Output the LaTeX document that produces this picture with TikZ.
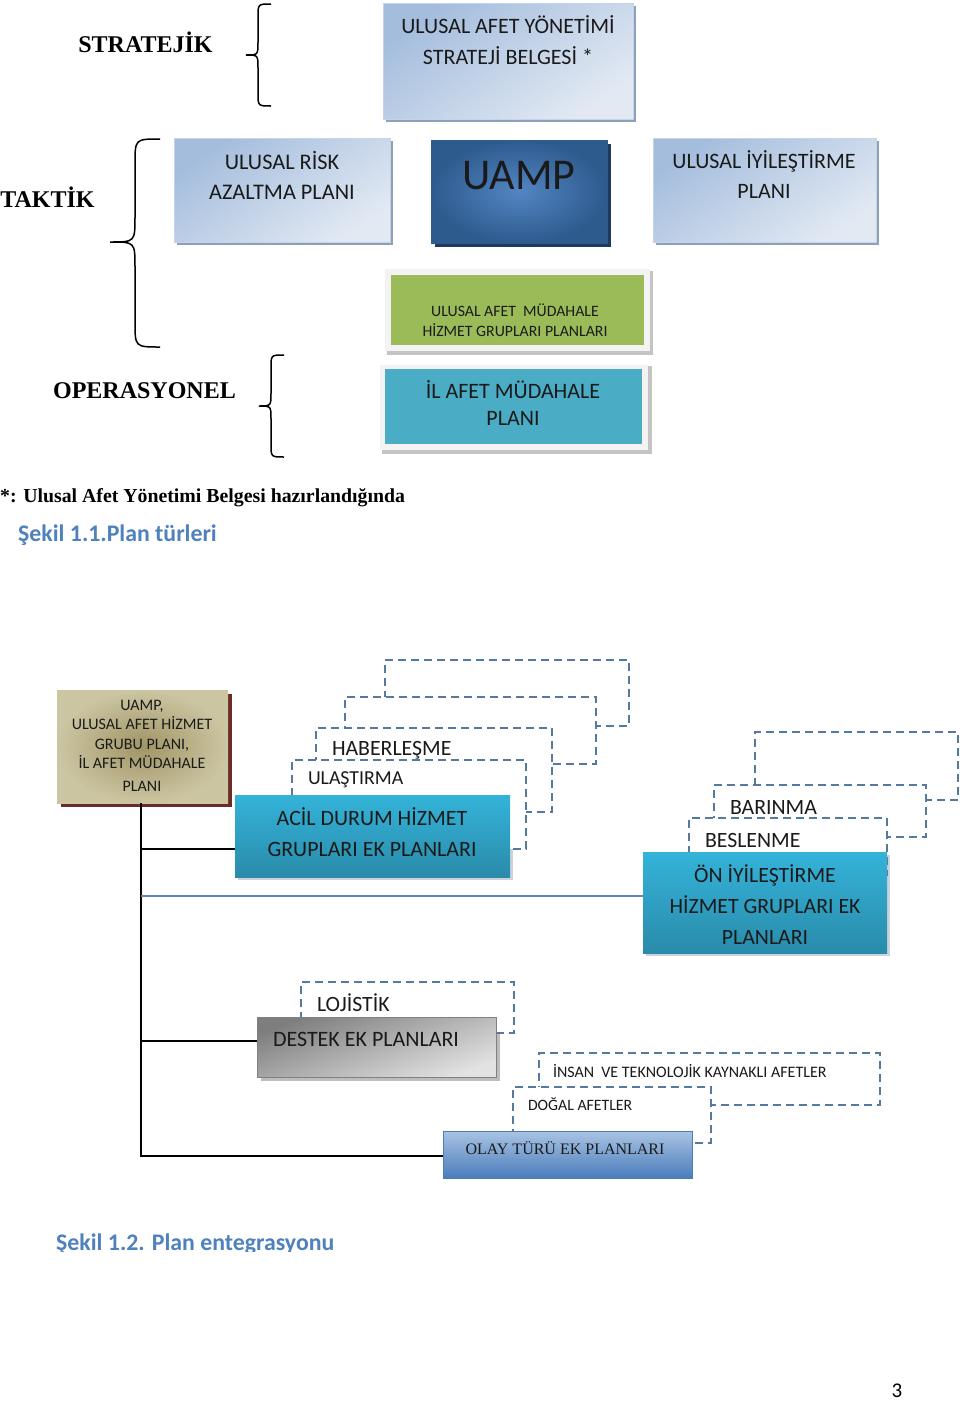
\documentclass[tikz,border=0pt]{standalone}
\usepackage{fontspec}
\setmainfont{Liberation Serif}
\newfontfamily\carl{Carlito}
\usetikzlibrary{fit,calc}
\pgfdeclarelayer{bg}
\pgfsetlayers{bg,main}
\definecolor{dashc}{HTML}{56799F}
\definecolor{capblue}{HTML}{4F81BD}
\definecolor{txtc}{HTML}{1A1A1A}
\definecolor{lbA}{HTML}{A4BDDD}
\definecolor{lbB}{HTML}{E2E9F3}
\definecolor{lbD}{HTML}{C5D4E8}
\definecolor{lbS}{HTML}{8DA0BA}
\definecolor{uampIn}{HTML}{5285C2}
\definecolor{uampOut}{HTML}{2E5B8E}
\definecolor{uampS}{HTML}{1F3A60}
\definecolor{grn}{HTML}{9BBB59}
\definecolor{cyanbox}{HTML}{4BACC6}
\definecolor{frameC}{HTML}{F3F3F3}
\definecolor{frameS}{HTML}{C4C4C4}
\definecolor{tanIn}{HTML}{A09566}
\definecolor{tanOut}{HTML}{CCC5A2}
\definecolor{tanS}{HTML}{6B2B26}
\definecolor{acTop}{HTML}{34B3D9}
\definecolor{acBot}{HTML}{2A8BAA}
\definecolor{acS}{HTML}{C9D3DC}
\definecolor{gyTop}{HTML}{7E7E7E}
\definecolor{gyBot}{HTML}{E2E2E2}
\definecolor{gyS}{HTML}{BDBDBD}
\definecolor{olTop}{HTML}{A9C3E4}
\definecolor{olBot}{HTML}{4A7DBA}
\definecolor{blueline}{HTML}{5F86B5}
\newcommand\carlf[2]{\carl\fontsize{#1}{#2}\selectfont}
\newcommand\mybrace[7]{%
  \draw[bracestyle] (#1,#4) .. controls (#2,#4) .. (#2,#4+#7) -- (#2,#5-#7)
   .. controls (#2,#5) .. (#3,#5) .. controls (#2,#5) .. (#2,#5+#7)
   -- (#2,#6-#7) .. controls (#2,#6) .. (#1,#6);}
\tikzset{
  box/.style={rectangle, inner sep=0pt, outer sep=0pt},
  dbox/.style={box, draw=dashc, line width=2pt, dash pattern=on 8pt off 5pt, fill=white},
  t/.style={inner sep=0pt, outer sep=0pt, align=center, text=txtc},
  lab/.style={inner sep=0pt, outer sep=0pt, font=\bfseries\fontsize{24}{28}\selectfont},
  bracestyle/.style={draw=black, line width=1.5pt},
  link/.style={draw=black, line width=2pt},
  lightbox/.style={box, top color=lbA, bottom color=lbB, shading angle=35, draw=lbD, line width=0.8pt},
  uampbox/.style={box, inner color=uampIn, outer color=uampOut, draw=uampOut, line width=0.8pt},
  greenbox/.style={box, fill=grn},
  cybox/.style={box, fill=cyanbox},
  tanbox/.style={box, inner color=tanIn, outer color=tanOut},
  acbox/.style={box, top color=acTop, bottom color=acBot},
  gybox/.style={box, top color=gyTop, bottom color=gyBot, shading angle=20, draw=gray, line width=0.6pt},
  olbox/.style={box, top color=olTop, bottom color=olBot, draw=olBot, line width=0.6pt},
}
\begin{document}
\begin{tikzpicture}[x=1pt,y=-1pt]
\useasboundingbox (0,0) rectangle (960,1403);

% ---------------- Figure 1.1 ----------------
\node[lab, anchor=center] (strat) at (145.5,42) {STRATEJİK};
\node[lab, anchor=center] (taktik) at (47.5,197) {TAKTİK};
\node[lab, anchor=center] (opera) at (144.5,391) {OPERASYONEL};

\mybrace{271}{258}{246}{4}{55}{106}{13}
\mybrace{160}{135}{110}{139}{242}{347}{25}
\mybrace{284}{271}{259}{355}{406}{457}{13}

\node[lightbox, fit={(383,3) (633,119)}] (ust) {};
\node[t, font=\carlf{22}{31}] (ustT) at (508,40.5) {ULUSAL AFET YÖNETİMİ\\STRATEJİ BELGESİ *};

\node[lightbox, fit={(174,138) (390,242)}] (risk) {};
\node[t, font=\carlf{22.3}{30}] (riskT) at (282,175) {ULUSAL RİSK\\AZALTMA PLANI};

\node[uampbox, fit={(431,140) (607,243)}] (uamp) {};
\node[t, font=\carlf{44}{48}] (uampT) at (519,176) {UAMP};

\node[lightbox, fit={(653,138) (876,242)}] (iyi) {};
\node[t, font=\carlf{22}{30}] (iyiT) at (764,175) {ULUSAL İYİLEŞTİRME\\PLANI};

\node[greenbox, fit={(391,275) (644,345)}] (grp) {};
\node[t, font=\carlf{15.8}{20}] (grpT) at (515,320) {ULUSAL AFET\ \ MÜDAHALE\\HİZMET GRUPLARI PLANLARI};

\node[cybox, fit={(385,369) (642,444)}] (il) {};
\node[t, font=\carlf{22}{27}] (ilT) at (513,403.5) {İL AFET MÜDAHALE\\PLANI};

\node[inner sep=0pt, anchor=west, font=\bfseries\fontsize{19.8}{22}\selectfont] (note) at (0,497.5) {*: Ulusal Afet Yönetimi Belgesi hazırlandığında};
\node[inner sep=0pt, anchor=west, text=capblue, font=\carl\bfseries\fontsize{23.8}{27}\selectfont] (cap1) at (18,535) {Şekil 1.1.Plan türleri};

% ---------------- Figure 1.2 ----------------
\node[tanbox, fit={(57,690) (228,803)}] (tan) {};
\node[t, font=\carlf{16}{19.5}] (tanT) at (142,745.5) {UAMP,\\ULUSAL AFET HİZMET\\GRUBU PLANI,\\İL AFET MÜDAHALE\\[3pt]PLANI};

% emergency service group stack
\node[dbox, fit={(385,660) (629,726)}] (d4) {};
\node[dbox, fit={(345,697) (596,764)}] (d3) {};
\node[dbox, fit={(316,728) (552,812)}] (d2) {};
\node[t, anchor=west, font=\carlf{21.8}{24}] (haber) at (332,750) {HABERLEŞME};
\node[dbox, fit={(292,760) (526,849)}] (d1) {};
\node[t, anchor=west, font=\carlf{19.8}{22}] (ulas) at (308,780) {ULAŞTIRMA};
\node[acbox, fit={(235,795) (510,877)}] (acil) {};
\node[t, font=\carlf{21.9}{31}] (acilT) at (372,832.5) {ACİL DURUM HİZMET\\GRUPLARI EK PLANLARI};

% recovery stack
\node[dbox, fit={(755,732) (958,800)}] (e3) {};
\node[dbox, fit={(714,785) (926,837)}] (e2) {};
\node[t, anchor=west, font=\carlf{21.8}{24}] (barin) at (730,807) {BARINMA};
\node[dbox, fit={(689,818) (887,875)}] (e1) {};
\node[t, anchor=west, font=\carlf{21.8}{24}] (besl) at (705,840) {BESLENME};
\node[acbox, fit={(643,852) (887,953)}] (oni) {};
\node[t, font=\carlf{21.8}{31}] (oniT) at (765,905) {ÖN İYİLEŞTİRME\\HİZMET GRUPLARI EK\\PLANLARI};

% support
\node[dbox, fit={(301,982) (514,1033)}] (f1) {};
\node[t, anchor=west, font=\carlf{21.8}{24}] (loj) at (317,1003) {LOJİSTİK};
\node[gybox, fit={(257,1017) (496,1077)}] (destek) {};
\node[t, anchor=west, font=\carlf{22}{24}] (destekT) at (273,1039) {DESTEK EK PLANLARI};

% incident
\node[dbox, fit={(539,1053) (880,1105)}] (g2) {};
\node[t, anchor=west, font=\carlf{16}{18}] (insan) at (553,1071) {İNSAN\ \ VE TEKNOLOJİK KAYNAKLI AFETLER};
\node[dbox, fit={(513,1087) (711,1143)}] (g1) {};
\node[t, anchor=west, font=\carlf{15.8}{18}] (dogal) at (528,1104) {DOĞAL AFETLER};
\node[olbox, fit={(443,1131) (692,1178)}] (olay) {};
\node[t, font=\fontsize{16}{18}\selectfont] (olayT) at (565,1148) {OLAY TÜRÜ EK PLANLARI};

% connectors
\coordinate (trunk) at (141,1156);
\draw[link] (tan.south -| trunk) -- (trunk) -- (olay.west |- trunk);
\draw[link] (acil.west -| trunk) ++(0,13) coordinate (ja) -- (acil.west |- ja);
\draw[draw=blueline, line width=1.5pt] (141,896) coordinate (jb) -- (oni.west |- jb);
\draw[link] (141,1041) coordinate (jc) -- (destek.west |- jc);

\begin{scope}
\clip (0,1200) rectangle (960,1251);
\node[inner sep=0pt, anchor=west, text=capblue, font=\carl\bfseries\fontsize{23.8}{27}\selectfont] (cap2) at (56,1244) {Şekil 1.2. Plan entegrasyonu};
\end{scope}
\node[inner sep=0pt, font=\carl\fontsize{21}{24}\selectfont] (pnum) at (897,1391) {3};

% background: page, shadows, frames
\begin{pgfonlayer}{bg}
\fill[white] (0,0) rectangle (960,1403);
\fill[lbS] ($(ust.north west)+(3,3)$) rectangle ($(ust.south east)+(3,3)$);
\fill[lbS] ($(risk.north west)+(3,3)$) rectangle ($(risk.south east)+(3,3)$);
\fill[lbS] ($(iyi.north west)+(3,3)$) rectangle ($(iyi.south east)+(3,3)$);
\fill[uampS] ($(uamp.north west)+(4,4)$) rectangle ($(uamp.south east)+(4,4)$);
\fill[frameS] ($(grp.north west)+(-4,-4)$) rectangle ($(grp.south east)+(9,10)$);
\fill[frameC] ($(grp.north west)+(-6,-6)$) rectangle ($(grp.south east)+(6,6)$);
\fill[frameS] ($(il.north west)+(-3,-3)$) rectangle ($(il.south east)+(10,10)$);
\fill[frameC] ($(il.north west)+(-5,-4)$) rectangle ($(il.south east)+(6,6)$);
\fill[tanS] ($(tan.north west)+(4,4)$) rectangle ($(tan.south east)+(4,4)$);
\fill[acS] ($(acil.north west)+(3,3)$) rectangle ($(acil.south east)+(3,3)$);
\fill[acS] ($(oni.north west)+(3,3)$) rectangle ($(oni.south east)+(3,3)$);
\fill[gyS] ($(destek.north west)+(4,4)$) rectangle ($(destek.south east)+(4,4)$);
\end{pgfonlayer}
\end{tikzpicture}
\end{document}
